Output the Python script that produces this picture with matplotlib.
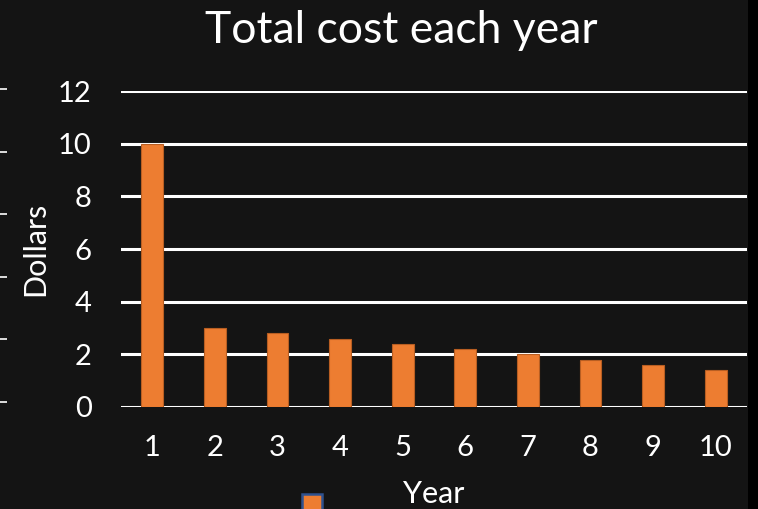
import matplotlib
matplotlib.use('Agg')
import matplotlib.pyplot as plt
from matplotlib.patches import Patch, Rectangle

# Chart data
years = [1, 2, 3, 4, 5, 6, 7, 8, 9, 10]
costs = [10, 3.0, 2.8, 2.6, 2.4, 2.2, 2.0, 1.8, 1.6, 1.4]
y_ticks = [0, 2, 4, 6, 8, 10, 12]

BG = '#141414'
ORANGE = '#ED7D31'

plt.rcParams['font.family'] = ['Lato', 'DejaVu Sans']

fig = plt.figure(figsize=(7.58, 5.09), dpi=100, facecolor=BG)
ax = fig.add_axes([0.1596, 0.2004, 0.8259, 0.6208], facecolor=BG)

ax.bar(years, costs, width=0.35, color=ORANGE, edgecolor='#B85E22', linewidth=0.8, zorder=3)

ax.set_xlim(0.5, 10.5)
ax.set_ylim(0, 12)
ax.set_xticks(years)
ax.set_yticks(y_ticks)
ax.yaxis.grid(True, color='white', linewidth=2.2, zorder=1)
ax.set_axisbelow(True)
for s in ax.spines.values():
    s.set_visible(False)
ax.tick_params(length=0, colors='white', labelsize=21)
ax.tick_params(axis='y', pad=21)
ax.tick_params(axis='x', pad=20)

ax.set_xlabel('Year', color='white', fontsize=22, labelpad=14)
ax.set_ylabel('Dollars', color='white', fontsize=22, labelpad=6)

fig.text(0.530, 0.94, 'Total cost each year', color='white', fontsize=32,
         ha='center', va='center')

# legend marker, cut off at the bottom
ax.legend(handles=[Patch(facecolor=ORANGE, edgecolor='#2F528F', linewidth=1.8)],
          labels=[''], loc='upper left', bbox_to_anchor=(0.372, 0.068),
          bbox_transform=fig.transFigure, frameon=False,
          handlelength=0.9, handleheight=1.2, fontsize=16)

# leftover tick marks on the left edge
side = fig.add_axes([0.0, 0.2102, 0.05, 0.615])
side.set_ylim(0, 5)
side.set_yticks(range(6))
side.set_xticks([])
side.patch.set_visible(False)
for s in side.spines.values():
    s.set_visible(False)
side.tick_params(axis='y', direction='in', length=5, width=1.2, colors='white', labelleft=False)

# dark strip at the right edge
fig.patches.append(Rectangle((0.987, 0), 0.013, 1, transform=fig.transFigure,
                             facecolor='black', edgecolor='none'))

fig.savefig('out.png', dpi=100, facecolor=BG)
